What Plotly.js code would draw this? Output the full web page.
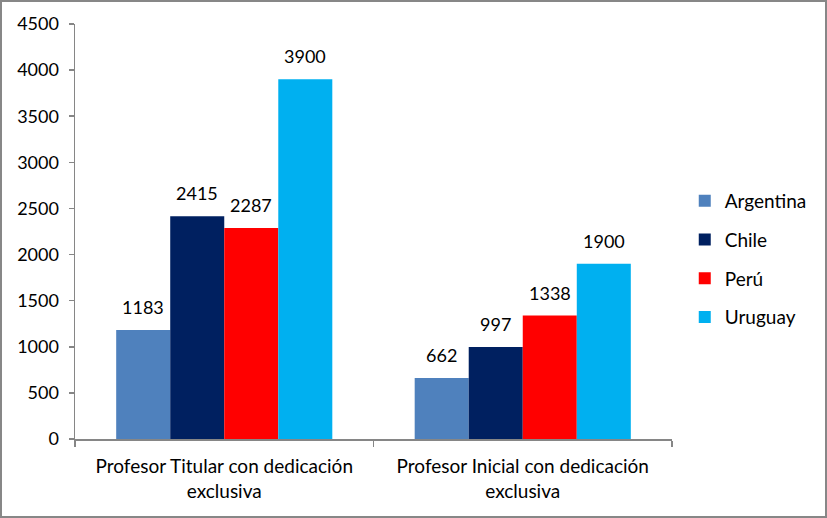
<!DOCTYPE html>
<html>
<head>
<meta charset="utf-8">
<script src="https://cdn.plot.ly/plotly-3.0.1.min.js"></script>
<style>
  html, body { margin: 0; padding: 0; background: #fff; }
  #wrap { position: relative; width: 827px; height: 518px; }
  #chart { width: 827px; height: 518px; }
  #frame { position: absolute; left: 0; top: 0; width: 827px; height: 518px; box-sizing: border-box; border: 2px solid #878787; pointer-events: none; }
</style>
</head>
<body>
<div id="wrap"><div id="chart"></div><div id="frame"></div></div>
<script>
const categories = ["Profesor Titular con dedicación<br>exclusiva", "Profesor Inicial con dedicación<br>exclusiva"];
const seriesNames = ["Argentina", "Chile", "Perú", "Uruguay"];
const argentina = [1183, 662];
const chile = [2415, 997];
const peru = [2287, 1338];
const uruguay = [3900, 1900];
const colors = ["#4F81BD", "#002060", "#FF0000", "#00B0F0"];
const yTicks = [0, 500, 1000, 1500, 2000, 2500, 3000, 3500, 4000, 4500];

const seriesValues = [argentina, chile, peru, uruguay];
const fontFamily = "Lato, 'Open Sans', 'DejaVu Sans', sans-serif";
const bargap = 0.276;
const nSeries = seriesNames.length;
const barW = (1 - bargap) / nSeries;

const traces = seriesNames.map((name, i) => ({
  type: "bar",
  name: name,
  x: categories,
  y: seriesValues[i],
  marker: { color: colors[i] },
  legendgroup: "g" + i
}));

// value labels above each bar, placed on the category axis through the library's scale
const annotations = [];
seriesValues.forEach((vals, i) => {
  vals.forEach((v, j) => {
    annotations.push({
      xref: "x", yref: "y",
      x: j + (i - (nSeries - 1) / 2) * barW,
      y: v,
      text: String(v),
      showarrow: false,
      yanchor: "bottom",
      yshift: 10,
      font: { family: fontFamily, size: 18, color: "#000" }
    });
  });
});

const layout = {
  width: 827,
  height: 518,
  margin: { l: 75, r: 155, t: 24, b: 79 },
  paper_bgcolor: "#fff",
  plot_bgcolor: "#fff",
  font: { family: fontFamily, size: 18, color: "#000" },
  barmode: "group",
  bargap: bargap,
  bargroupgap: 0,
  showlegend: true,
  annotations: annotations,
  legend: {
    xref: "container", yref: "container",
    x: 0.828, xanchor: "left",
    y: 0.5, yanchor: "middle",
    traceorder: "grouped",
    tracegroupgap: 11,
    font: { family: fontFamily, size: 19, color: "#000" },
    itemclick: false
  },
  xaxis: {
    type: "category",
    showline: true,
    linecolor: "#868686",
    linewidth: 1.5,
    ticks: "outside",
    tickson: "boundaries",
    ticklen: 6,
    tickcolor: "#868686",
    tickwidth: 1.5,
    showgrid: false,
    zeroline: false,
    ticklabelstandoff: 10,
    tickfont: { family: fontFamily, size: 19, color: "#000" },
    automargin: false
  },
  yaxis: {
    range: [0, 4500],
    tickvals: yTicks,
    ticktext: yTicks.map(String),
    showline: true,
    linecolor: "#868686",
    linewidth: 1.5,
    ticks: "outside",
    ticklen: 5,
    tickcolor: "#868686",
    tickwidth: 1.5,
    showgrid: false,
    zeroline: false,
    ticklabelstandoff: 6,
    tickfont: { family: fontFamily, size: 18, color: "#000" },
    automargin: false
  }
};

Plotly.newPlot("chart", traces, layout, { displayModeBar: false, staticPlot: true });
</script>
</body>
</html>
